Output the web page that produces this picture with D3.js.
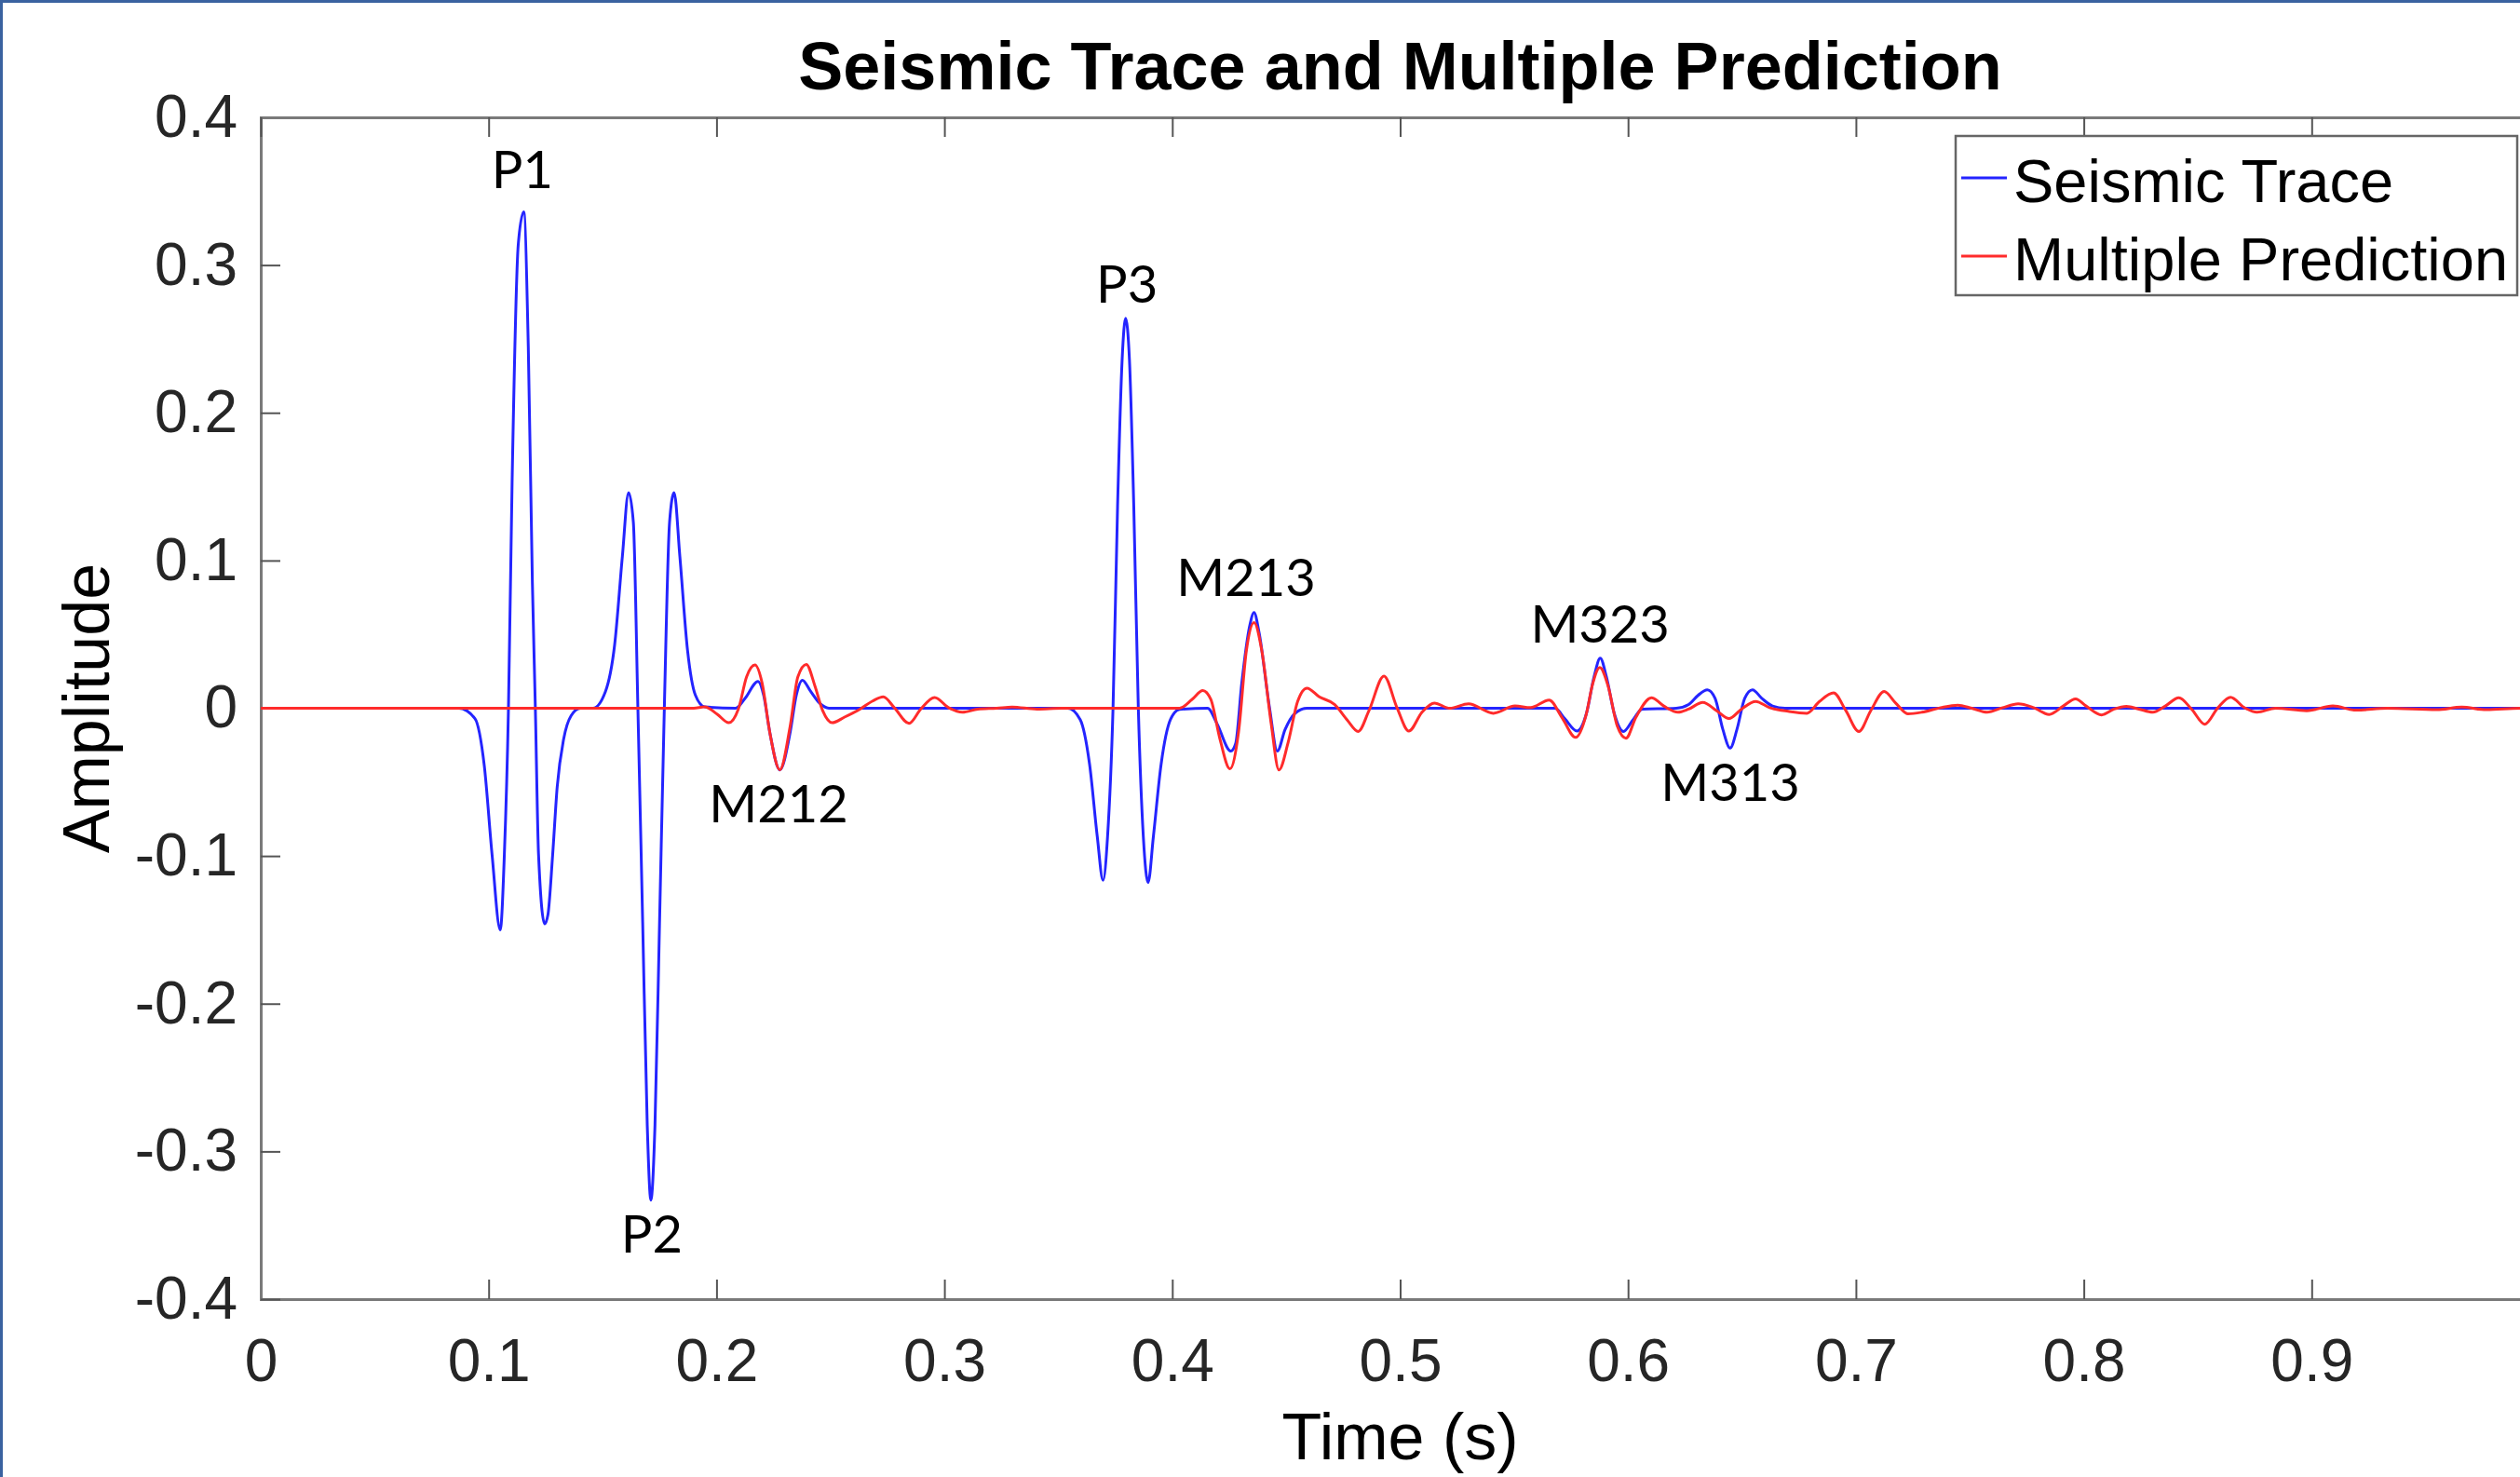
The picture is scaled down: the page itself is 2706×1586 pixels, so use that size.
<!DOCTYPE html>
<html>
<head>
<meta charset="utf-8">
<script src="https://cdn.jsdelivr.net/npm/d3@7"></script>
<style>
  body { margin: 0; background: #fff; }
  svg { display: block; }
</style>
</head>
<body>
<div id="chart"></div>
<script>
// seismic trace (blue)
var traceTime = [0, 0.087, 0.094, 0.0981, 0.1015, 0.1051, 0.1069, 0.1087, 0.1103, 0.113, 0.1154, 0.1174, 0.1192, 0.1205, 0.1219, 0.1246, 0.126, 0.1281, 0.1301, 0.1329, 0.1362, 0.1403,
  0.1458, 0.1512, 0.1553, 0.1587, 0.1614, 0.1635, 0.1655, 0.1676, 0.1696, 0.1712, 0.173, 0.175, 0.1771, 0.1794, 0.1814, 0.1839, 0.1873, 0.1907, 0.1948,
  0.2084, 0.2125, 0.2182, 0.2207, 0.2234, 0.2278, 0.2323, 0.235, 0.2377, 0.2411, 0.2452, 0.2493,
  0.3542, 0.3596, 0.3637, 0.3671, 0.3696, 0.3716, 0.374, 0.376, 0.378, 0.3795, 0.3812, 0.3831, 0.3851, 0.3873, 0.3894, 0.3917, 0.3951, 0.3992, 0.4032,
  0.4155, 0.4196, 0.4257, 0.4278, 0.4305, 0.4339, 0.4359, 0.438, 0.4427, 0.4461, 0.4495, 0.4536, 0.4591,
  0.568, 0.5722, 0.5776, 0.5817, 0.5851, 0.5878, 0.5905, 0.594, 0.598, 0.6021, 0.6062,
  0.6212, 0.6266, 0.6307, 0.6348, 0.6382, 0.6416, 0.6448, 0.6478, 0.6512, 0.6546, 0.6587, 0.6634, 0.6689, 1.05];
var traceAmp = [0, 0, -0.007, -0.039, -0.099, -0.15, -0.099, 0, 0.153, 0.314, 0.336, 0.245, 0.085, 0, -0.099, -0.146, -0.14, -0.099, -0.053, -0.021, -0.005, 0,
  0, 0.011, 0.043, 0.103, 0.146, 0.126, 0, -0.145, -0.282, -0.333, -0.282, -0.145, 0, 0.126, 0.146, 0.103, 0.039, 0.009, 0.001,
  0, 0.0066, 0.0182, 0.0087, -0.0165, -0.0417, -0.0165, 0.0087, 0.0189, 0.0119, 0.0035, 0,
  0, -0.0077, -0.0378, -0.087, -0.1165, -0.087, 0, 0.137, 0.236, 0.264, 0.236, 0.137, 0, -0.087, -0.118, -0.087, -0.038, -0.0077, -0.0008,
  0, -0.0104, -0.029, -0.024, 0.017, 0.0552, 0.0648, 0.052, 0, -0.029, -0.0144, -0.0038, 0,
  0, -0.007, -0.0154, -0.0038, 0.0213, 0.0339, 0.0213, -0.0038, -0.0157, -0.008, -0.0006,
  0, 0.0025, 0.0087, 0.0125, 0.0067, -0.0143, -0.027, -0.0143, 0.0067, 0.0125, 0.0067, 0.0015, 0, 0];

// multiple prediction (red)
var predTime = [0, 0.19, 0.1948, 0.2002, 0.2054, 0.2098, 0.2132, 0.2169, 0.22, 0.2234, 0.2278, 0.2323, 0.2357, 0.2394, 0.2432, 0.2466, 0.2507, 0.2562, 0.263, 0.2685, 0.2732, 0.278,
  0.2845, 0.2896, 0.2957, 0.3018, 0.3079, 0.3147, 0.3229, 0.3297, 0.3406, 0.3515,
  0.4032, 0.4087, 0.4134, 0.4169, 0.421, 0.4253, 0.4291, 0.4325, 0.4359, 0.4393, 0.4434, 0.4468, 0.4509, 0.455, 0.4591, 0.4645, 0.4713, 0.4768, 0.4816, 0.4863,
  0.4929, 0.4986, 0.5038, 0.5096, 0.515, 0.5218, 0.53, 0.5409, 0.5504, 0.5572, 0.5654, 0.5709, 0.577, 0.5817, 0.5844, 0.5876, 0.5912, 0.5953, 0.5991, 0.6035,
  0.6103, 0.6157, 0.6219, 0.6266, 0.6328, 0.6389, 0.6443, 0.6498, 0.656, 0.6621, 0.6703, 0.6785, 0.684, 0.6902, 0.6956, 0.7013, 0.7065, 0.7124, 0.7174, 0.7229,
  0.729, 0.7372, 0.7447, 0.7508, 0.7576, 0.7644, 0.7712, 0.778, 0.7848, 0.791, 0.7964, 0.801, 0.8078, 0.8133, 0.8187, 0.8242, 0.8303, 0.8358, 0.8417, 0.8473,
  0.8531, 0.8589, 0.8644, 0.8705, 0.876, 0.8841, 0.8978, 0.9093, 0.9195, 0.9332, 0.9549, 0.9658, 0.9767, 0.9914, 1.05];
var predAmp = [0, 0, 0.001, -0.0039, -0.0098, 0.0004, 0.0213, 0.0293, 0.0171, -0.0165, -0.0417, -0.0123, 0.0213, 0.0297, 0.015, -0.0017, -0.0098, -0.006, -0.0006, 0.0049, 0.0077, 0.0004,
  -0.0102, -0.0006, 0.0073, 0.0004, -0.0027, -0.0006, 0, 0.0008, -0.0006, 0,
  0, 0.006, 0.012, 0.006, -0.0214, -0.041, -0.016, 0.0388, 0.058, 0.0388, -0.0104, -0.0418, -0.0228, 0.0045, 0.0136, 0.0077, 0.0025, -0.008, -0.0157, -0.0017,
  0.0218, 0.0004, -0.0154, -0.0027, 0.0035, 0, 0.003, -0.0034, 0.0015, 0.0004, 0.0055, -0.006, -0.0197, -0.0038, 0.016, 0.0276, 0.0153, -0.0122, -0.0203, -0.006,
  0.0071, 0.0015, -0.0027, -0.0006, 0.004, -0.0017, -0.007, -0.0006, 0.0046, 0.0004, -0.0021, -0.0034, 0.0046, 0.0104, -0.0017, -0.0157, -0.0017, 0.0113, 0.0036, -0.0038,
  -0.0027, 0.0004, 0.0021, 0, -0.0027, 0.0004, 0.003, 0.0004, -0.0042, 0.0015, 0.0063, 0.0015, -0.0045, -0.0006, 0.0013, -0.0006, -0.0027, 0.0015, 0.0071, -0.0006,
  -0.0108, 0.0004, 0.0074, 0.0004, -0.0027, 0, -0.0017, 0.0015, -0.0013, 0, -0.001, 0.0008, -0.001, 0, 0];

// the axes run to 1 s but the picture is cropped just before it
var xTicks = [0, 0.1, 0.2, 0.3, 0.4, 0.5, 0.6, 0.7, 0.8, 0.9];
var yTicks = [-0.4, -0.3, -0.2, -0.1, 0, 0.1, 0.2, 0.3, 0.4];
var seriesNames = ["Seismic Trace", "Multiple Prediction"];
var seriesColors = ["#2424ff", "#ff2b2b"];

// event labels placed in data space (time, amplitude of text baseline)
var labelNames = ["P1", "P2", "P3", "M212", "M213", "M323", "M313"];
var labelTime = [0.1148, 0.1716, 0.3801, 0.2272, 0.4324, 0.5877, 0.6449];
var labelAmp = [0.352, -0.3685, 0.2746, -0.0772, 0.076, 0.0445, -0.0627];

var W = 2706, H = 1586;
var margin = { l: 280, t: 126 };
var plotW = 2447, plotH = 1269;
var font = "'Liberation Sans', Arial, Helvetica, sans-serif";

var svg = d3.select("#chart").append("svg")
  .attr("width", W)
  .attr("height", H);

svg.append("rect").attr("width", W).attr("height", H).attr("fill", "#fff");

var x = d3.scaleLinear().domain([0, 1]).range([0, plotW]);
var y = d3.scaleLinear().domain([-0.4, 0.4]).range([plotH, 0]);

var g = svg.append("g").attr("transform", `translate(${margin.l},${margin.t})`);

svg.append("defs").append("clipPath").attr("id", "plotClip")
  .append("rect").attr("width", plotW).attr("height", plotH);

var fmt = (d) => String(+d.toFixed(1));

// axes, ticks pointing inward like matlab
var xAxis = d3.axisBottom(x).tickValues(xTicks).tickSize(-21).tickPadding(43).tickFormat(fmt);
var yAxis = d3.axisLeft(y).tickValues(yTicks).tickSize(-21).tickPadding(25).tickFormat(fmt);

g.append("g").attr("transform", `translate(0,${plotH})`).call(xAxis);
g.append("g").call(yAxis);
g.append("g").call(d3.axisTop(x).tickValues(xTicks).tickSize(-21).tickFormat(""));
g.append("g").attr("transform", `translate(${plotW},0)`)
  .call(d3.axisRight(y).tickValues(yTicks).tickSize(-21).tickFormat(""));

g.selectAll(".domain").attr("stroke", "#7a7a7a").attr("stroke-width", 3);
g.selectAll(".tick line").attr("stroke", "#555").attr("stroke-width", 2);
g.selectAll(".tick text")
  .attr("font-family", font)
  .attr("font-size", 64)
  .attr("fill", "#262626");

// traces
var traceData = traceTime.map((t, i) => [t, traceAmp[i]]);
var predData = predTime.map((t, i) => [t, predAmp[i]]);

var line = d3.line()
  .x((d) => x(d[0]))
  .y((d) => y(d[1]))
  .curve(d3.curveMonotoneX);

var lines = g.append("g").attr("clip-path", "url(#plotClip)");

[traceData, predData].forEach((data, i) => {
  lines.append("path")
    .datum(data)
    .attr("fill", "none")
    .attr("stroke", seriesColors[i])
    .attr("stroke-width", 3)
    .attr("stroke-linejoin", "round")
    .attr("d", line);
});

// event labels
labelNames.forEach((name, i) => {
  g.append("text")
    .attr("x", x(labelTime[i]))
    .attr("y", y(labelAmp[i]))
    .attr("text-anchor", "middle")
    .attr("font-family", "Lato, 'Open Sans', sans-serif")
    .attr("font-size", 56)
    .attr("fill", "#000")
    .text(name);
});

// title and axis labels
svg.append("text")
  .attr("x", margin.l + plotW / 2)
  .attr("y", 96)
  .attr("text-anchor", "middle")
  .attr("font-family", font)
  .attr("font-weight", "bold")
  .attr("font-size", 72)
  .attr("fill", "#000")
  .text("Seismic Trace and Multiple Prediction");

svg.append("text")
  .attr("x", margin.l + plotW / 2)
  .attr("y", 1567)
  .attr("text-anchor", "middle")
  .attr("font-family", font)
  .attr("font-size", 70)
  .attr("fill", "#000")
  .text("Time (s)");

svg.append("text")
  .attr("transform", `translate(117,${margin.t + plotH / 2}) rotate(-90)`)
  .attr("text-anchor", "middle")
  .attr("font-family", font)
  .attr("font-size", 70)
  .attr("fill", "#000")
  .text("Amplitude");

// legend
var legend = svg.append("g").attr("transform", "translate(2100,146)");

legend.append("rect")
  .attr("width", 603)
  .attr("height", 171)
  .attr("fill", "#fff")
  .attr("stroke", "#666")
  .attr("stroke-width", 2.5);

seriesNames.forEach((name, i) => {
  var row = legend.append("g").attr("transform", `translate(0,${45 + i * 84})`);
  row.append("line")
    .attr("x1", 6).attr("x2", 55)
    .attr("stroke", seriesColors[i])
    .attr("stroke-width", 3);
  row.append("text")
    .attr("x", 62)
    .attr("y", 26)
    .attr("font-family", font)
    .attr("font-size", 65)
    .attr("fill", "#000")
    .text(name);
});

// slide frame edge on the left and top
svg.append("rect").attr("width", 3).attr("height", H).attr("fill", "#3a62a0");
svg.append("rect").attr("width", W).attr("height", 3).attr("fill", "#3a62a0");
</script>
</body>
</html>
